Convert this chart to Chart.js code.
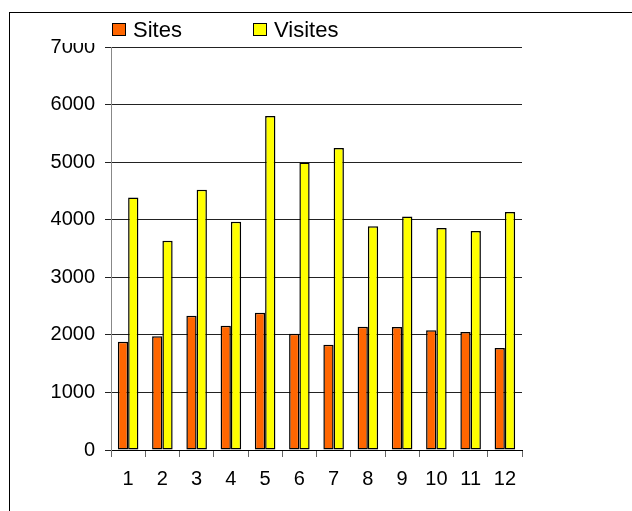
<!DOCTYPE html>
<html>
<head>
<meta charset="utf-8">
<script src="https://cdn.jsdelivr.net/npm/chart.js@4.4.1/dist/chart.umd.min.js"></script>
<style>
  body { margin: 0; background: #fff; }
  canvas { display: block; }
</style>
</head>
<body>
<canvas id="myChart" width="632" height="511"></canvas>
<script>
const months = ["1", "2", "3", "4", "5", "6", "7", "8", "9", "10", "11", "12"];
const sites = [1880, 1975, 2330, 2160, 2385, 2020, 1830, 2140, 2135, 2080, 2050, 1770];
const visites = [4385, 3635, 4520, 3965, 5800, 4995, 5245, 3885, 4055, 3855, 3805, 4135];

const FONT = "'Liberation Sans', Arial, sans-serif";

// frame + legend drawn like the old spreadsheet chart (legend box covers the top label a bit)
const frameAndLegend = {
  id: "frameAndLegend",
  afterDraw(chart) {
    const ctx = chart.ctx;
    ctx.save();
    ctx.strokeStyle = "#000";
    ctx.lineWidth = 1;
    ctx.strokeRect(9.5, 12.5, 700, 600);

    ctx.fillStyle = "#fff";
    ctx.fillRect(62, 14, 300, 29);

    const items = [
      { x: 112, text: chart.data.datasets[0].label, color: chart.data.datasets[0].backgroundColor },
      { x: 253, text: chart.data.datasets[1].label, color: chart.data.datasets[1].backgroundColor },
    ];
    ctx.font = "22px " + FONT;
    ctx.textBaseline = "alphabetic";
    items.forEach((item) => {
      ctx.fillStyle = item.color;
      ctx.fillRect(item.x + 0.5, 23.5, 13, 12);
      ctx.strokeStyle = "#000";
      ctx.strokeRect(item.x + 0.5, 23.5, 13, 12);
      ctx.fillStyle = "#000";
      ctx.fillText(item.text, item.x + 21, 37);
    });
    ctx.restore();
  },
};

const ctx = document.getElementById("myChart");

new Chart(ctx, {
  type: "bar",
  data: {
    labels: months,
    datasets: [
      {
        label: "Sites",
        data: sites,
        backgroundColor: "#FF6600",
        borderColor: "#000",
        borderWidth: 1.5,
        borderSkipped: false,
        inflateAmount: 0,
      },
      {
        label: "Visites",
        data: visites,
        backgroundColor: "#FFFF00",
        borderColor: "#000",
        borderWidth: 1.5,
        borderSkipped: false,
        inflateAmount: 0,
      },
    ],
  },
  options: {
    responsive: false,
    animation: false,
    events: [],
    categoryPercentage: 0.6,
    barPercentage: 1.0,
    layout: {
      padding: { top: 47, right: 110, bottom: 0, left: 0 },
    },
    plugins: {
      legend: { display: false },
      tooltip: { enabled: false },
    },
    scales: {
      x: {
        afterFit: (scale) => {
          scale.height = 61;
        },
        grid: {
          drawOnChartArea: false,
          drawTicks: true,
          tickLength: 7,
          color: "#666",
          offset: true,
        },
        border: { color: "#000", width: 1 },
        ticks: {
          color: "#000",
          padding: 10,
          maxRotation: 0,
          font: { family: FONT, size: 20 },
        },
      },
      y: {
        min: 0,
        max: 7000,
        afterFit: (scale) => {
          scale.width = 111;
        },
        grid: {
          color: "#222",
          lineWidth: 1,
          tickLength: 6,
        },
        border: { color: "#888", width: 1 },
        ticks: {
          stepSize: 1000,
          color: "#000",
          padding: 10,
          font: { family: FONT, size: 20 },
          callback: (value) => String(value),
        },
      },
    },
  },
  plugins: [frameAndLegend],
});
</script>
</body>
</html>
